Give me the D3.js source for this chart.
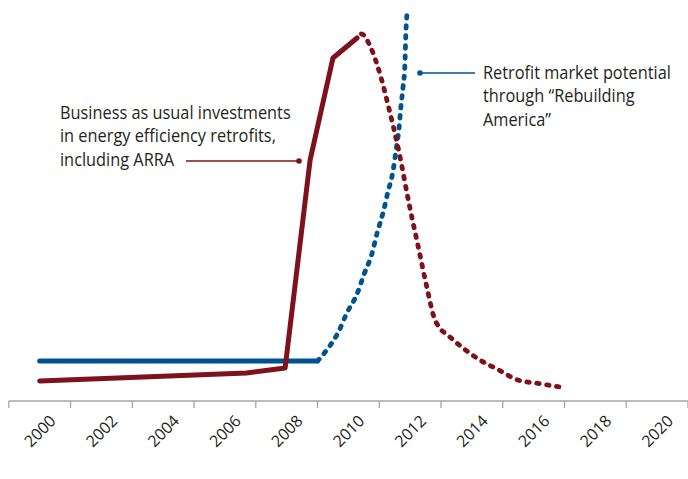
<!DOCTYPE html>
<html lang="en-US">
<head>
<meta charset="utf-8">
<script src="https://d3js.org/d3.v7.min.js"></script>
<style>
body { margin: 0; background: #fff; }
svg { display: block; }
text { font-family: 'Open Sans', sans-serif; fill: #231f20; }
text.note { font-size: 19px; }
text.year { font-size: 16px; }
.axis line, .axis path { stroke: #a6a6a6; stroke-width: 1.3; }
</style>
</head>
<body>
<svg id="chart" width="688" height="479"></svg>
<script>
// y is an index with no units
const usualSolid = [
  [2000.0, 5], [2006.7, 7], [2007.95, 8.25], [2008.76, 60.25], [2009.5, 85.75], [2010.28, 90.75]
];
const usualDotted = [
  [2010.28, 90.75], [2010.42, 91.75], [2010.73, 88.25], [2011.06, 80.75], [2011.31, 73.25],
  [2011.64, 62.25], [2011.96, 49.5], [2012.25, 39], [2012.54, 28.5], [2012.77, 21],
  [2012.95, 18.3], [2013.2, 16.6], [2013.71, 13.25], [2014.26, 10.25], [2014.87, 7.75],
  [2015.49, 5.25], [2016.14, 4.4], [2016.85, 3.5]
];
const rebuildSolid = [
  [2000.0, 10], [2009.0, 10]
];
const rebuildDotted = [
  [2009.0, 10], [2009.3, 12.75], [2009.66, 17], [2009.95, 22], [2010.28, 26.75],
  [2010.51, 31.75], [2010.76, 36.75], [2010.93, 42], [2011.12, 47], [2011.28, 52.25],
  [2011.44, 57.25], [2011.54, 62.5], [2011.64, 68.25], [2011.7, 73.5], [2011.77, 78.5],
  [2011.83, 84], [2011.86, 91.75], [2011.9, 97]
];
const yearLabels = [2000, 2002, 2004, 2006, 2008, 2010, 2012, 2014, 2016, 2018, 2020];
const tickYears = [1999, 2001, 2003, 2005, 2007, 2009, 2011, 2013, 2015, 2017, 2019, 2021];

const usualNote = ['Business as usual investments', 'in energy efficiency retrofits,', 'including ARRA'];
const rebuildNote = ['Retrofit market potential', 'through \u201cRebuilding', 'America\u201d'];

const red = '#7e1119';
const blue = '#00538e';

const svg = d3.select('#chart');

const x = d3.scaleLinear().domain([1999, 2021]).range([8.8, 688]);
const y = d3.scaleLinear().domain([0, 100]).range([401, 1]);

const line = d3.line()
  .x((d) => x(d[0]))
  .y((d) => y(d[1]));

const curvy = d3.line()
  .curve(d3.curveMonotoneX)
  .x((d) => x(d[0]))
  .y((d) => y(d[1]));

// axis: tick marks between years, labels centred on even years
const axis = svg.append('g')
  .attr('class', 'axis')
  .attr('transform', `translate(0, ${y(0)})`);

axis.append('line')
  .attr('x1', x(1999))
  .attr('x2', x(2021))

axis.selectAll('.tick')
  .data(tickYears)
  .enter()
  .append('line')
  .attr('x1', (d) => x(d))
  .attr('x2', (d) => x(d))
  .attr('y1', 0)
  .attr('y2', 7)

axis.selectAll('.year')
  .data(yearLabels)
  .enter()
  .append('text')
  .attr('class', 'year')
  .attr('text-anchor', 'end')
  .attr('transform', (d) => `translate(${x(d) + 9}, 13) rotate(-45)`)
  .attr('dy', '0.72em')
  .text((d) => d)

// series
svg.append('path')
  .attr('d', line(rebuildSolid))
  .attr('fill', 'none')
  .attr('stroke', blue)
  .attr('stroke-width', 5)
  .attr('stroke-linecap', 'round')

svg.append('path')
  .attr('d', curvy(rebuildDotted))
  .attr('fill', 'none')
  .attr('stroke', blue)
  .attr('stroke-width', 4.8)
  .attr('stroke-linecap', 'round')
  .attr('stroke-dasharray', '2.5 7.5')

svg.append('path')
  .attr('d', line(usualSolid))
  .attr('fill', 'none')
  .attr('stroke', red)
  .attr('stroke-width', 5)
  .attr('stroke-linecap', 'round')
  .attr('stroke-linejoin', 'round')

svg.append('path')
  .attr('d', curvy(usualDotted))
  .attr('fill', 'none')
  .attr('stroke', red)
  .attr('stroke-width', 4.8)
  .attr('stroke-linecap', 'round')
  .attr('stroke-dasharray', '2.5 7.5')
  .attr('stroke-dashoffset', -6)

// annotations, squeezed a little to match the narrow original face
const leftNote = svg.append('g')
  .attr('transform', 'translate(60, 119) scale(0.86, 1)');
leftNote.append('text')
  .attr('class', 'note')
  .selectAll('tspan')
  .data(usualNote)
  .enter()
  .append('tspan')
  .attr('x', 0)
  .attr('dy', (d, i) => i ? 23.5 : 0)
  .text((d) => d)

svg.append('line')
  .attr('x1', 186).attr('y1', 161)
  .attr('x2', 299).attr('y2', 161)
  .attr('stroke', red)
  .attr('stroke-width', 1.3)
svg.append('circle')
  .attr('cx', 299).attr('cy', 161).attr('r', 2.8)
  .attr('fill', red)

const rightNote = svg.append('g')
  .attr('transform', 'translate(483, 79) scale(0.86, 1)');
rightNote.append('text')
  .attr('class', 'note')
  .selectAll('tspan')
  .data(rebuildNote)
  .enter()
  .append('tspan')
  .attr('x', 0)
  .attr('dy', (d, i) => i ? 23.5 : 0)
  .text((d) => d)

svg.append('line')
  .attr('x1', 420).attr('y1', 73)
  .attr('x2', 475).attr('y2', 73)
  .attr('stroke', blue)
  .attr('stroke-width', 1.3)
svg.append('circle')
  .attr('cx', 420).attr('cy', 73).attr('r', 2.8)
  .attr('fill', blue)
</script>
</body>
</html>
